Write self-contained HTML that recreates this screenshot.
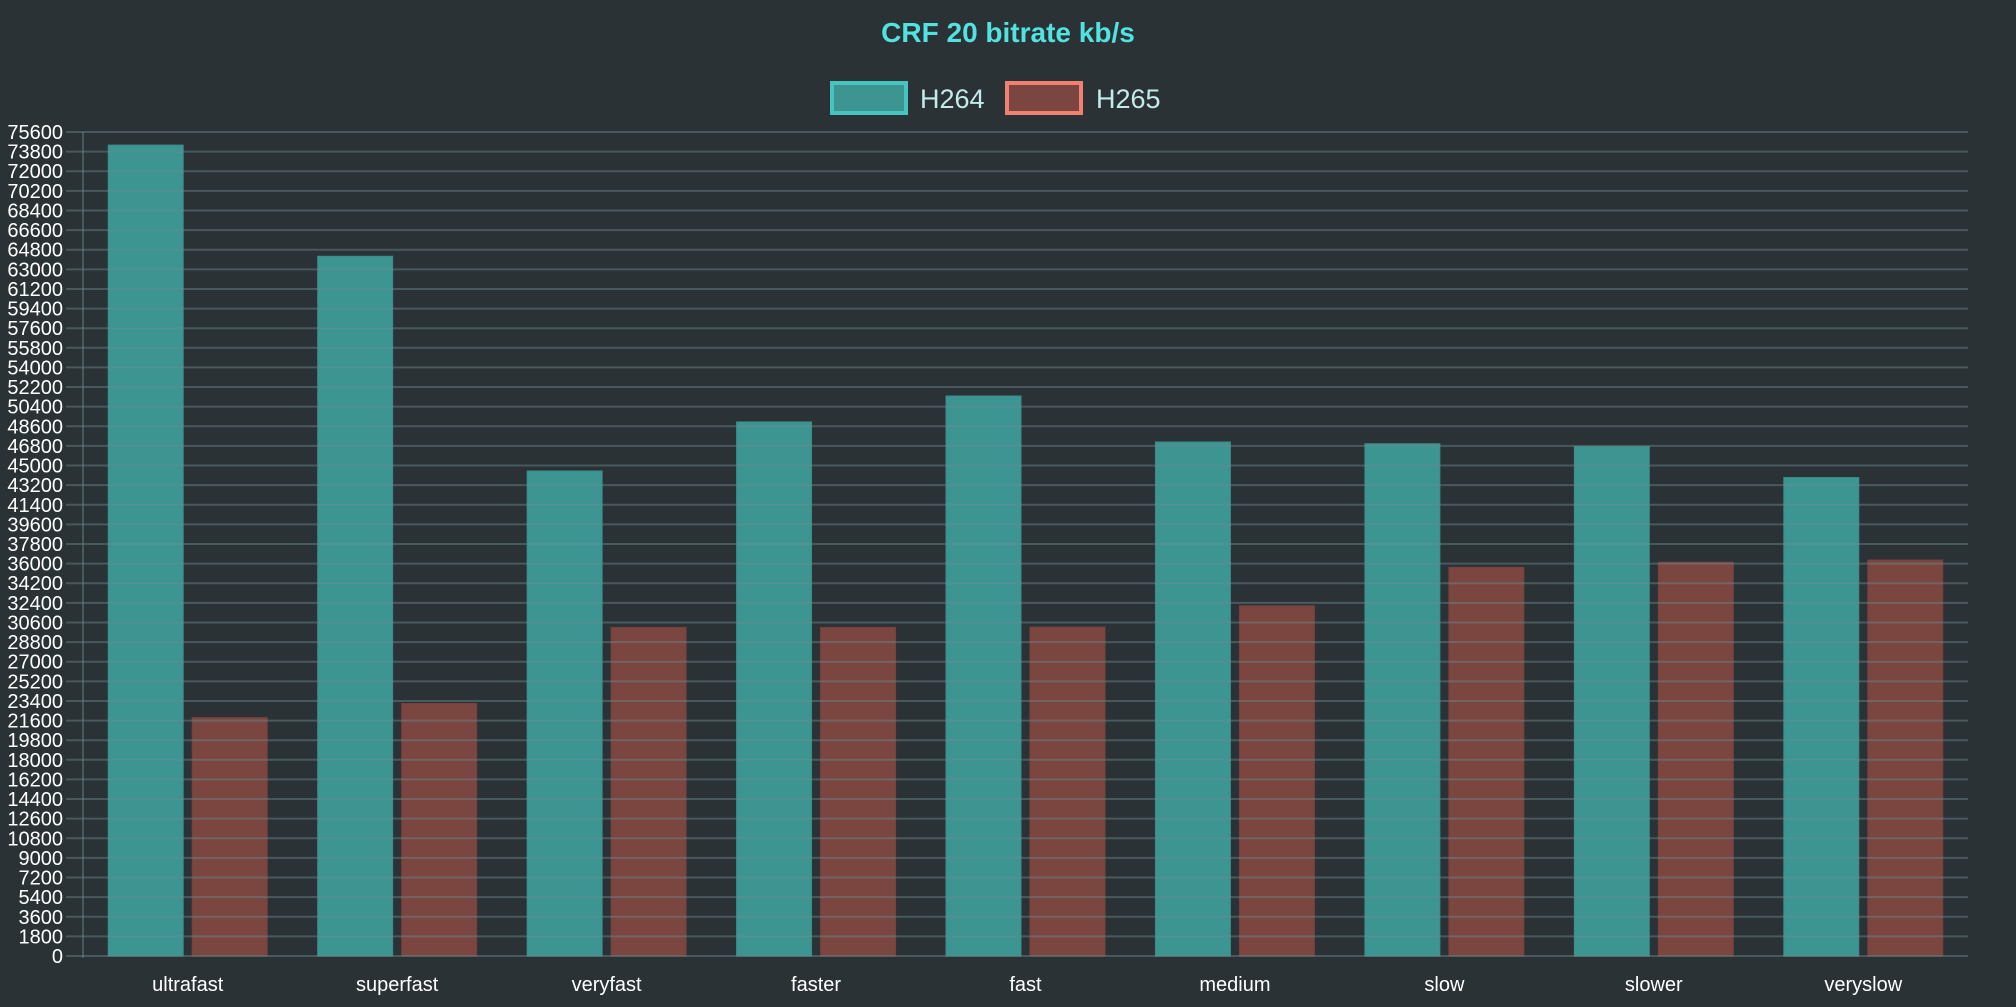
<!DOCTYPE html>
<html><head><meta charset="utf-8"><style>
html,body{margin:0;padding:0;background:#2b3235;}
svg{display:block;font-family:"Liberation Sans",sans-serif;}
</style></head><body>
<svg id="c" width="2016" height="1007" viewBox="0 0 2016 1007" xmlns="http://www.w3.org/2000/svg">
<rect width="2016" height="1007" fill="#2b3235"/>
<text x="1008" y="42" text-anchor="middle" font-size="28" font-weight="bold" fill="#52e3e0">CRF 20 bitrate kb/s</text>
<rect x="832" y="83" width="74" height="30" fill="#3d9592" stroke="#45c4c0" stroke-width="4"/>
<text x="920" y="108" font-size="27" fill="#c2ebea">H264</text>
<rect x="1007" y="83" width="74" height="30" fill="#7b4540" stroke="#f08070" stroke-width="4"/>
<text x="1096" y="108" font-size="27" fill="#c2ebea">H265</text>
<g id="bars"></g>
<g id="grid"></g>
<g id="lab"></g>
</svg>
<script>
var ns="http://www.w3.org/2000/svg";
function el(p,t,a,txt){var e=document.createElementNS(ns,t);for(var k in a)e.setAttribute(k,a[k]);if(txt!=null)e.textContent=txt;p.appendChild(e);return e;}
var L=83,R=1968,T=132,B=956,max=75600;
function y(v){return B-(v/max)*(B-T);}
var cats=["ultrafast","superfast","veryfast","faster","fast","medium","slow","slower","veryslow"];
var h264=[74400,64200,44500,49000,51380,47160,47000,46750,43900];
var h265=[21870,23170,30150,30150,30185,32130,35660,36130,36330];
var cw=(R-L)/9;
var bars=document.getElementById("bars"),grid=document.getElementById("grid"),lab=document.getElementById("lab");
for(var i=0;i<9;i++){
  var c=L+cw*(i+0.5);
  el(bars,"rect",{x:c-79.5,y:y(h264[i]),width:75,height:B-y(h264[i]),fill:"#3d9592",stroke:"#3a8c89","stroke-width":1});
  el(bars,"rect",{x:c+4.5,y:y(h265[i]),width:75,height:B-y(h265[i]),fill:"#7b4540",stroke:"#74423e","stroke-width":1});
  el(lab,"text",{x:c,y:991,"text-anchor":"middle","font-size":20,fill:"#ffffff"},cats[i]);
}
for(var v=0;v<=max;v+=1800){
  var yy=y(v);
  el(grid,"line",{x1:66,x2:R,y1:yy,y2:yy,stroke:"#6a8a8e","stroke-opacity":0.45,"stroke-width":2});
  el(lab,"text",{x:63,y:yy+7,"text-anchor":"end","font-size":20,fill:"#ffffff"},String(v));
}
el(grid,"line",{x1:L,x2:L,y1:T,y2:B+2,stroke:"#6a8a8e","stroke-opacity":0.45,"stroke-width":2});
</script>
</body></html>
